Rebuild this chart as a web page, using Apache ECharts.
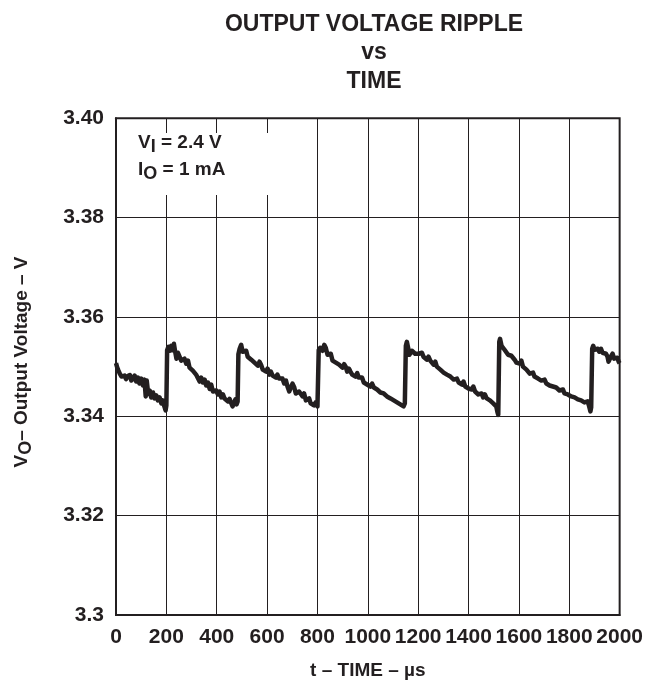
<!DOCTYPE html>
<html>
<head>
<meta charset="utf-8">
<script src="https://cdn.jsdelivr.net/npm/echarts@6/dist/echarts.min.js"></script>
<style>html,body{margin:0;padding:0;background:#fff}#c{width:646px;height:685px}</style>
</head>
<body>
<div id="c"></div>
<script>
// ---- data (time in µs, output voltage in V) ----
const timeUs = [
  0,5,9,15,22,28,34,40,47,55,61,68,74,80,87,93,100,107,113,118,122,128,134,140,147,153,160,166,173,180,186,192,197,200,
  203,208,213,219,225,230,235,240,246,253,259,266,272,279,286,292,299,305,312,318,325,332,338,345,352,358,365,372,378,385,391,398,405,411,418,425,431,438,445,451,458,463,466,470,474,479,483,
  486,491,497,503,510,517,523,530,537,543,550,556,563,570,576,583,589,596,602,609,615,622,628,635,641,648,655,661,668,675,681,688,694,701,708,714,721,727,734,741,747,754,760,767,773,780,786,793,800,
  805,811,820,827,833,840,846,853,860,866,873,880,886,893,899,906,912,918,925,931,938,945,951,958,964,971,977,984,991,997,1004,1010,1017,1024,1030,1037,1043,1050,1056,1063,1070,1076,1083,1090,1096,1103,1109,1116,1122,1129,1135,1142,1147,
  1151,1155,1160,1165,1169,1175,1182,1188,1195,1202,1208,1215,1221,1228,1234,1241,1248,1255,1261,1268,1274,1281,1288,1294,1301,1308,1314,1321,1328,1334,1341,1347,1354,1361,1367,1374,1380,1387,1393,1400,1406,1413,1419,1426,1432,1439,1445,1452,1458,1465,1472,1478,1485,1491,1498,1504,1510,1515,1518,
  1522,1525,1531,1537,1543,1550,1557,1563,1570,1577,1583,1590,1596,1603,1610,1616,1623,1630,1636,1643,1649,1656,1662,1669,1676,1682,1689,1696,1702,1709,1716,1722,1729,1735,1742,1748,1755,1761,1768,1775,1781,1788,1794,1801,1808,1814,1821,1827,1834,1840,1847,1853,1860,1867,1873,1879,1884,1887,
  1891,1895,1900,1906,1913,1919,1926,1932,1939,1946,1952,1956,1960,1965,1972,1978,1985,1991,1996,2000
];
const voltage = [
  3.3507,3.3498,3.3493,3.3486,3.3480,3.3476,3.3482,3.3475,3.3481,3.3483,3.3472,3.3474,3.3482,3.3470,3.3478,3.3466,3.3476,3.3462,3.3474,3.3440,3.3472,3.3445,3.3452,3.3438,3.3448,3.3436,3.3442,3.3432,3.3438,3.3426,3.3432,3.3420,3.3412,3.3422,
  3.3533,3.3540,3.3532,3.3542,3.3533,3.3546,3.3530,3.3516,3.3528,3.3524,3.3512,3.3508,3.3516,3.3506,3.3512,3.3498,3.3502,3.3492,3.3490,3.3484,3.3486,3.3470,3.3478,3.3468,3.3474,3.3462,3.3468,3.3455,3.3464,3.3450,3.3446,3.3452,3.3444,3.3450,3.3438,3.3444,3.3436,3.3440,3.3430,3.3435,3.3426,3.3420,3.3416,3.3428,3.3434,3.3424,3.3430,
  3.3525,3.3536,3.3544,3.3530,3.3527,3.3532,3.3520,3.3524,3.3514,3.3518,3.3508,3.3512,3.3502,3.3510,3.3504,3.3494,3.3498,3.3490,3.3496,3.3484,3.3490,3.3482,3.3486,3.3478,3.3484,3.3476,3.3472,3.3476,3.3466,3.3472,3.3460,3.3450,3.3458,3.3466,3.3458,3.3446,3.3442,3.3450,3.3446,3.3440,3.3446,3.3432,3.3430,3.3436,3.3426,3.3428,3.3422,3.3428,3.3420,
  3.3533,3.3538,3.3532,3.3544,3.3538,3.3524,3.3522,3.3526,3.3512,3.3515,3.3508,3.3512,3.3504,3.3508,3.3498,3.3505,3.3500,3.3490,3.3496,3.3490,3.3484,3.3488,3.3480,3.3487,3.3478,3.3474,3.3478,3.3468,3.3472,3.3464,3.3468,3.3460,3.3466,3.3458,3.3462,3.3454,3.3458,3.3448,3.3452,3.3446,3.3450,3.3440,3.3444,3.3436,3.3440,3.3432,3.3436,3.3428,3.3432,3.3424,3.3428,3.3420,3.3426,
  3.3542,3.3550,3.3538,3.3524,3.3520,3.3532,3.3536,3.3526,3.3530,3.3526,3.3522,3.3528,3.3520,3.3524,3.3514,3.3520,3.3512,3.3514,3.3504,3.3510,3.3500,3.3504,3.3494,3.3498,3.3488,3.3492,3.3484,3.3488,3.3480,3.3484,3.3474,3.3470,3.3476,3.3468,3.3472,3.3464,3.3470,3.3460,3.3464,3.3456,3.3460,3.3454,3.3460,3.3450,3.3454,3.3444,3.3440,3.3446,3.3438,3.3444,3.3436,3.3440,3.3432,3.3436,3.3426,3.3428,3.3420,3.3408,3.3403,
  3.3550,3.3556,3.3542,3.3540,3.3534,3.3538,3.3524,3.3528,3.3522,3.3526,3.3514,3.3508,3.3512,3.3506,3.3512,3.3500,3.3504,3.3494,3.3498,3.3486,3.3484,3.3488,3.3480,3.3484,3.3476,3.3480,3.3472,3.3470,3.3474,3.3466,3.3470,3.3462,3.3466,3.3460,3.3464,3.3458,3.3460,3.3452,3.3450,3.3454,3.3446,3.3450,3.3444,3.3448,3.3440,3.3442,3.3438,3.3442,3.3434,3.3436,3.3432,3.3434,3.3428,3.3426,3.3430,3.3420,3.3410,3.3418,
  3.3536,3.3542,3.3534,3.3530,3.3536,3.3530,3.3536,3.3528,3.3532,3.3526,3.3520,3.3510,3.3506,3.3520,3.3526,3.3516,3.3514,3.3518,3.3510,3.3507
];
const xTickLabels = ['0','200','400','600','800','1000','1200','1400','1600','1800','2000'];
const yTickLabels = ['3.3','3.32','3.34','3.36','3.38','3.40'];
const titleLines = ['OUTPUT VOLTAGE RIPPLE', 'vs', 'TIME'];

const points = timeUs.map((t, i) => [t, voltage[i]]);
const FONT = '"Liberation Sans", Arial, Helvetica, sans-serif';
const INK = '#231f20';

const chart = echarts.init(document.getElementById('c'), null, {renderer: 'canvas'});
chart.setOption({
  animation: false,
  backgroundColor: '#fff',
  title: {
    text: titleLines.join('\n'),
    left: 369, top: 5, textAlign: 'center',
    textStyle: {fontFamily: FONT, fontWeight: 'bold', fontSize: 23, lineHeight: 28.5, color: INK}
  },
  grid: {left: 116, right: 23.5, top: 118.3, bottom: 66.7, show: true, borderColor: INK, borderWidth: 2, backgroundColor: 'transparent'},
  xAxis: {
    type: 'value', min: 0, max: 2000, interval: 200,
    name: 't – TIME – µs', nameLocation: 'middle', nameGap: 46,
    nameTextStyle: {fontFamily: FONT, fontWeight: 'bold', fontSize: 19, color: INK},
    axisLine: {show: true, lineStyle: {color: INK, width: 2}},
    axisTick: {show: false},
    axisLabel: {margin: 12, fontFamily: FONT, fontWeight: 'bold', fontSize: 21, color: INK,
      formatter: (v, i) => xTickLabels[i]},
    splitLine: {show: true, lineStyle: {color: INK, width: 1}}
  },
  yAxis: {
    type: 'value', min: 3.3, max: 3.4, interval: 0.02,
    axisLine: {show: true, lineStyle: {color: INK, width: 2}},
    axisTick: {show: false},
    axisLabel: {margin: 12, fontFamily: FONT, fontWeight: 'bold', fontSize: 21, color: INK,
      formatter: (v, i) => yTickLabels[i]},
    splitLine: {show: true, lineStyle: {color: INK, width: 1}}
  },
  graphic: [
    {type: 'rect', z: 50, shape: {x: 117.5, y: 133, width: 172, height: 62}, style: {fill: '#fff'}},
    {type: 'text', z: 51, left: 138, top: 133,
      style: {
        text: '{m|V}{s|I}{m| = 2.4 V}\n{m|I}{s|O}{m| = 1 mA}',
        fontFamily: FONT, fontWeight: 'bold', fill: INK,
        rich: {
          m: {fontFamily: FONT, fontWeight: 'bold', fontSize: 19, lineHeight: 27, verticalAlign: 'middle', fill: INK, color: INK},
          s: {fontFamily: FONT, fontWeight: 'bold', fontSize: 18, lineHeight: 17, verticalAlign: 'bottom', fill: INK, color: INK}
        }
      }},
    {type: 'text', z: 51, x: 22, y: 362, rotation: Math.PI / 2,
      style: {
        text: '{m|V}{s|O}{m|– Output Voltage – V}',
        align: 'center', verticalAlign: 'middle',
        fontFamily: FONT, fontWeight: 'bold', fill: INK,
        rich: {
          m: {fontFamily: FONT, fontWeight: 'bold', fontSize: 19, lineHeight: 27, verticalAlign: 'middle', fill: INK, color: INK},
          s: {fontFamily: FONT, fontWeight: 'bold', fontSize: 18, lineHeight: 17, verticalAlign: 'bottom', fill: INK, color: INK}
        }
      }}
  ],
  series: [{
    type: 'line', data: points, showSymbol: false, symbol: 'none',
    lineStyle: {color: INK, width: 4.5, join: 'round'}, z: 3
  }]
});
</script>
</body>
</html>
